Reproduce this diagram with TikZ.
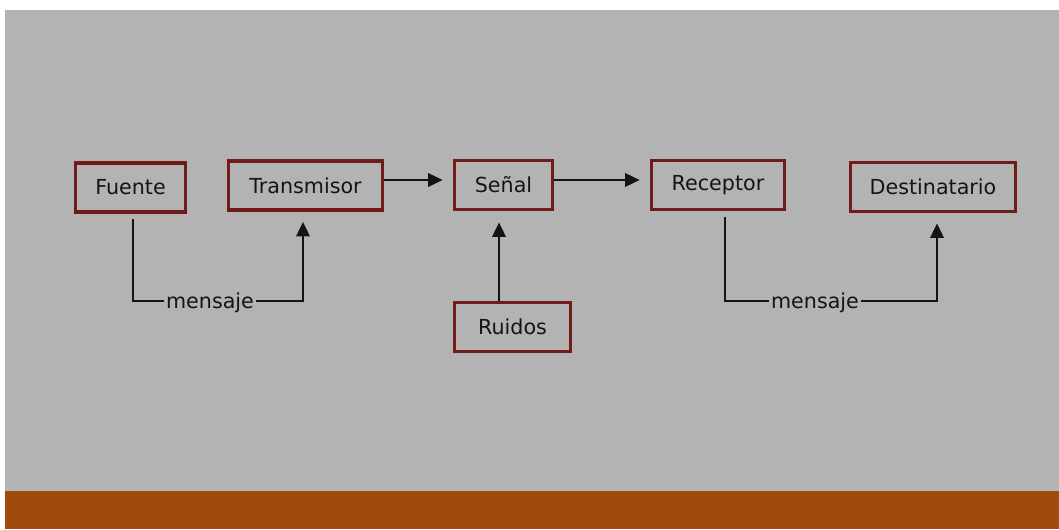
\documentclass[tikz,border=0pt]{standalone}
\usepackage{fontspec}
\setmainfont{DejaVu Sans}
\usetikzlibrary{arrows.meta}
\definecolor{bggray}{RGB}{179,179,179}
\definecolor{barorange}{RGB}{160,75,11}
\definecolor{boxred}{RGB}{112,26,26}
\definecolor{ink}{RGB}{20,20,20}
\begin{document}
\begin{tikzpicture}[x=0.75pt,y=-0.75pt,
  blk/.style={draw=boxred,line width=2.7pt,minimum height=49*0.75pt,inner sep=0pt,
    text=ink,font=\fontsize{15.5pt}{18pt}\selectfont},
  lbl/.style={inner sep=1pt,text=ink,font=\fontsize{15.5pt}{18pt}\selectfont},
  wire/.style={draw=ink,line width=2pt},
  arr/.style={wire,-{Triangle[length=11pt,width=10pt]}}]
\useasboundingbox (0,0) rectangle (1059,529);
\fill[white] (0,0) rectangle (1059,529);
\fill[bggray] (5,10) rectangle (1059,491);
\fill[barorange] (5,491) rectangle (1059,529);
% blocks
\node[blk,minimum width=110*0.75pt] (fuente) at (130.5,187.5) {Fuente};
\node[blk,minimum width=154*0.75pt] (trans) at (305.5,185.5) {Transmisor};
\node[blk,minimum width=98*0.75pt] (senal) at (503.5,185) {Señal};
\node[blk,minimum width=116*0.75pt] (ruidos) at (512.5,327) {Ruidos};
\node[blk,minimum width=133*0.75pt] (recep) at (718,185) {Receptor};
\node[blk,minimum width=165*0.75pt] (dest) at (933,187) {Destinatario};
% labels
\node[lbl] (m1) at (210,303) {mensaje};
\node[lbl] (m2) at (815,303) {mensaje};
% coordinates for connector ends
\coordinate (f0) at ([xshift=2.5*0.75pt,yshift=-5*0.75pt]fuente.south);
\coordinate (t0) at ([xshift=-2.5*0.75pt,yshift=-10*0.75pt]trans.south);
\coordinate (r0) at ([xshift=7*0.75pt,yshift=-6*0.75pt]recep.south);
\coordinate (d0) at ([xshift=4*0.75pt,yshift=-10*0.75pt]dest.south);
\coordinate (s0) at ([xshift=-4.5*0.75pt,yshift=-11*0.75pt]senal.south);
\coordinate (ru) at ([xshift=-13.5*0.75pt]ruidos.north);
% connectors
\draw[wire] (f0) |- ([yshift=2*0.75pt]m1.west);
\draw[arr] ([yshift=2*0.75pt]m1.east) -| (t0);
\draw[wire] (r0) |- ([yshift=2*0.75pt]m2.west);
\draw[arr] ([yshift=2*0.75pt]m2.east) -| (d0);
\draw[arr] (ru) -- (s0);
\draw[arr] ([yshift=5.5*0.75pt]trans.east) -- ([xshift=-10*0.75pt,yshift=5*0.75pt]senal.west);
\draw[arr] ([yshift=5*0.75pt]senal.east) -- ([xshift=-10*0.75pt,yshift=5*0.75pt]recep.west);
\end{tikzpicture}
\end{document}
